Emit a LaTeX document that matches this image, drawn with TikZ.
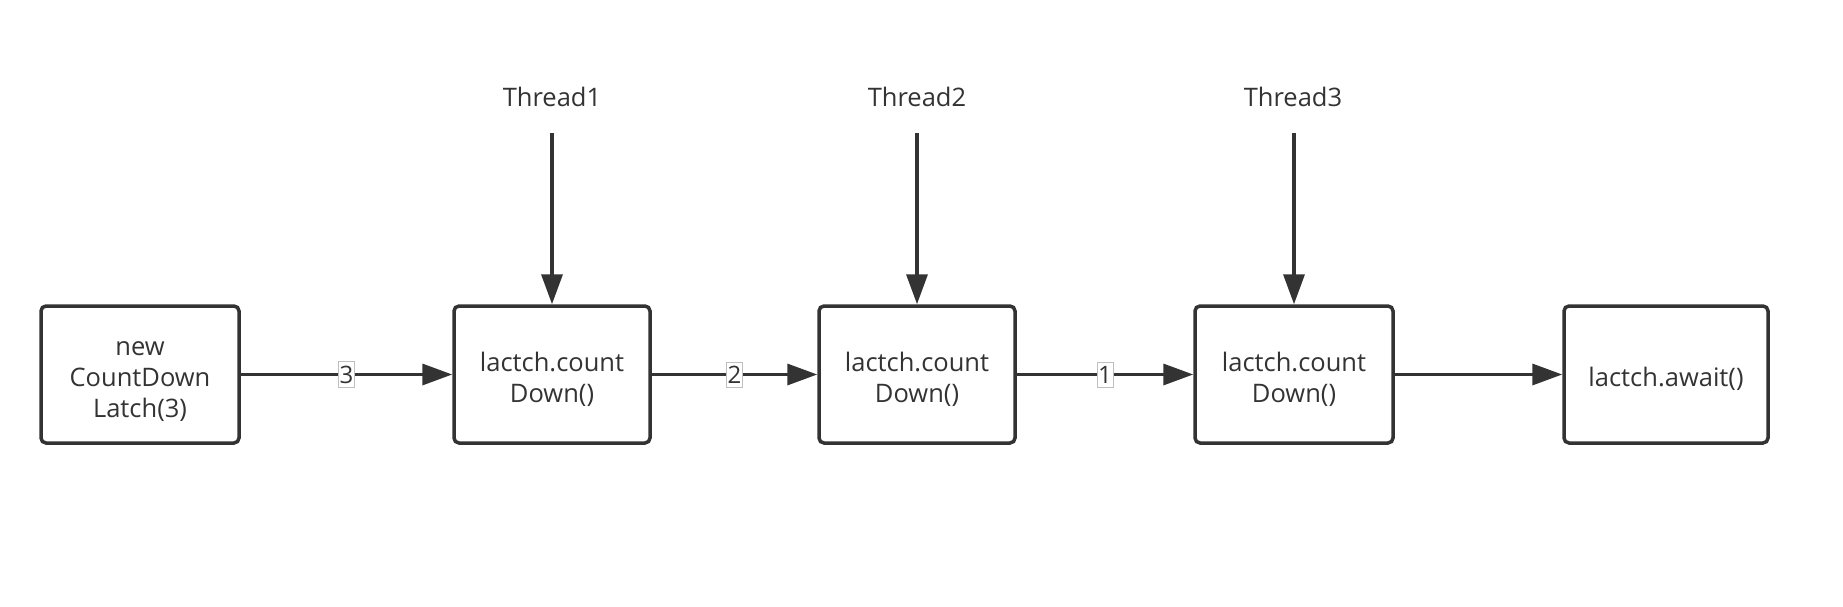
\documentclass[tikz,border=0pt]{standalone}
\usepackage{fontspec}
\setmainfont{Open Sans}
\usetikzlibrary{arrows.meta}
\definecolor{ink}{HTML}{333333}
\newcommand{\topstrut}{\rule{0pt}{29pt}}
\begin{document}
\begin{tikzpicture}[x=1pt,y=-1pt,
  box/.style={draw=ink, line width=3.5pt, rounded corners=5pt, minimum width=198pt, minimum height=137pt, inner sep=0pt, align=center, font=\fontsize{25.5}{31}\selectfont, text=ink},
  lbl/.style={font=\fontsize{25.5}{28}\selectfont, text=ink},
  elbl/.style={fill=white, draw=black!25, line width=0.6pt, inner xsep=1pt, inner ysep=4pt, font=\fontsize{24}{26}\selectfont, text=ink},
  conn/.style={draw=ink, line width=3.5pt, -{Triangle[length=30pt,width=21pt]}}]
\useasboundingbox (0,0) rectangle (1843,607);
\node[box] (b1) at (140,374.5) {\topstrut new\\CountDown\\Latch(3)};
\node[box, minimum width=196pt] (b2) at (552,374.5) {\topstrut lactch.count\\Down()};
\node[box, minimum width=196pt] (b3) at (917,374.5) {\topstrut lactch.count\\Down()};
\node[box] (b4) at (1294,374.5) {\topstrut lactch.count\\Down()};
\node[box, minimum width=204pt] (b5) at (1666,374.5) {\topstrut lactch.await()};
\node[lbl] (t1) at (552,97) {Thread1};
\node[lbl] (t2) at (917,97) {Thread2};
\node[lbl] (t3) at (1293,97) {Thread3};
\coordinate (s1) at (552,133);
\coordinate (s2) at (917,133);
\coordinate (s3) at (1294,133);
\draw[conn] (s1) -- (b2.north);
\draw[conn] (s2) -- (b3.north);
\draw[conn] (s3) -- (b4.north);
\draw[conn] (b1) -- node[elbl] {3} (b2);
\draw[conn] (b2) -- node[elbl] {2} (b3);
\draw[conn] (b3) -- node[elbl] {1} (b4);
\draw[conn] (b4) -- (b5);
\end{tikzpicture}
\end{document}
